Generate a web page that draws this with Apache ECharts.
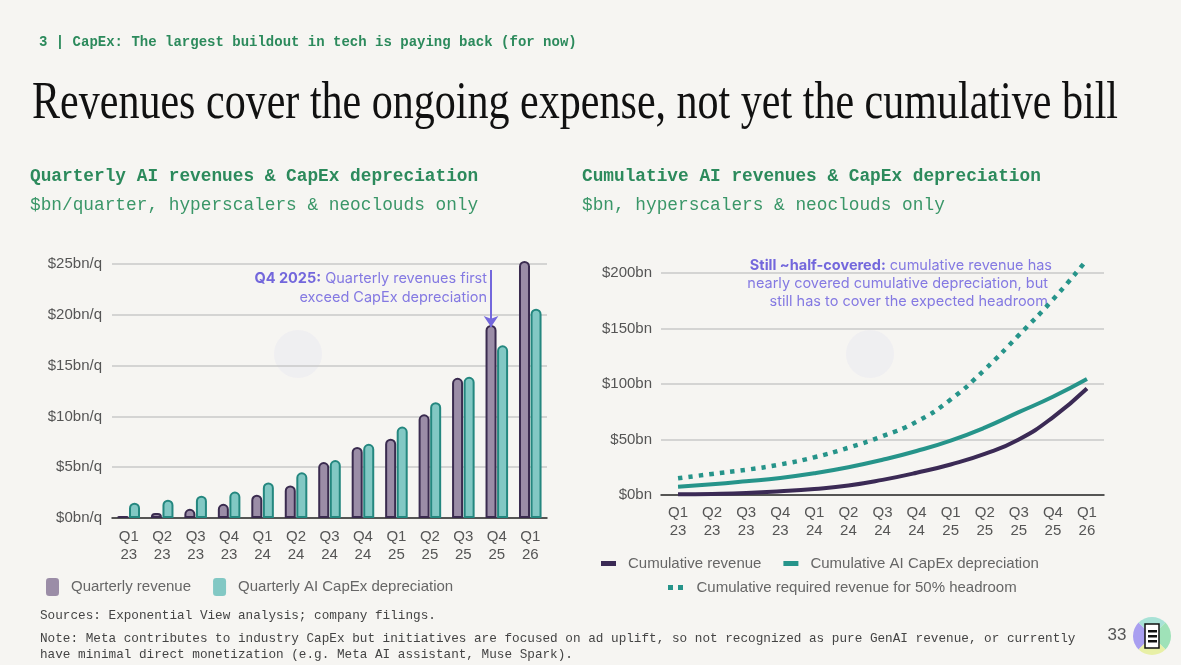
<!DOCTYPE html>
<html>
<head>
<meta charset="utf-8">
<script src="https://cdn.jsdelivr.net/npm/echarts@6/dist/echarts.min.js"></script>
<style>
  html, body { margin: 0; padding: 0; background: #f6f5f2; }
  #main { width: 1181px; height: 665px; }
</style>
</head>
<body>
<div id="main"></div>
<script>
// tick labels shared by both charts
const quarters = ['Q1 23', 'Q2 23', 'Q3 23', 'Q4 23', 'Q1 24', 'Q2 24', 'Q3 24', 'Q4 24', 'Q1 25', 'Q2 25', 'Q3 25', 'Q4 25', 'Q1 26'];

// left chart, $bn per quarter
const quarterlyRevenue = [0.2, 0.5, 0.9, 1.4, 2.3, 3.2, 5.5, 7.0, 7.8, 10.2, 13.8, 19.0, 25.3];
const quarterlyDepreciation = [1.5, 1.8, 2.2, 2.6, 3.5, 4.5, 5.7, 7.3, 9.0, 11.4, 13.9, 17.0, 20.6];

// right chart, cumulative $bn
const cumRevenue = [0.6, 1.0, 1.8, 3.3, 5.4, 8.5, 13.6, 20, 27.5, 37, 50, 70, 96];
const cumDepreciation = [7.5, 9.7, 12.4, 15.4, 19.6, 25, 31.7, 39.6, 49, 60.7, 74.6, 88.5, 104.5];
const cumHeadroom = [15, 19, 22.7, 27.5, 34, 42.6, 53, 66, 86, 113, 144, 176, 212];

const leftTicks = [0, 5, 10, 15, 20, 25];
const rightTicks = [0, 50, 100, 150, 200];

const GREEN = '#2c8a5c';
const PURPLE = '#7367dc';
const PURPLE_LIGHT = '#8479e2';
const AXIS_FONT = '"Liberation Sans", Arial, sans-serif';
const MONO = '"Liberation Mono", "DejaVu Sans Mono", monospace';
const ANNOT_FONT = 'Inter, Lato, sans-serif';

const titleText = 'Revenues cover the ongoing expense, not yet the cumulative bill';
const ctx = document.createElement('canvas').getContext('2d');
ctx.font = '52px "Liberation Serif"';
const titleScale = 1086 / ctx.measureText(titleText).width;

const chart = echarts.init(document.getElementById('main'));

const axisLabel = { color: '#555', fontSize: 15, fontFamily: AXIS_FONT };

function annot(x, y, text) {
  return {
    type: 'text', x: x, y: y,
    style: {
      text: text, align: 'right', verticalAlign: 'middle',
      fill: PURPLE_LIGHT, fontSize: 14.5, fontFamily: ANNOT_FONT,
      rich: { b: { fontWeight: 'bold', fontSize: 14.5, fontFamily: ANNOT_FONT, fill: PURPLE } }
    }
  };
}

const option = {
  backgroundColor: '#f6f5f2',
  animation: false,
  grid: [
    { left: 112, top: 264, width: 435, height: 254 },
    { left: 661, top: 273, width: 443, height: 222 }
  ],
  xAxis: [
    {
      type: 'category', gridIndex: 0, data: quarters,
      axisTick: { show: false },
      axisLine: { lineStyle: { color: '#2b2b2b', width: 1.5 } },
      axisLabel: Object.assign({}, axisLabel, {
        margin: 10, lineHeight: 18,
        formatter: v => v.replace(' ', '\n')
      })
    },
    {
      type: 'category', gridIndex: 1, data: quarters,
      axisTick: { show: false },
      axisLine: { lineStyle: { color: '#2b2b2b', width: 1.5 } },
      axisLabel: Object.assign({}, axisLabel, {
        margin: 9, lineHeight: 18,
        formatter: v => v.replace(' ', '\n')
      })
    }
  ],
  yAxis: [
    {
      type: 'value', gridIndex: 0,
      min: leftTicks[0], max: leftTicks[leftTicks.length - 1], interval: 5,
      axisLine: { show: false }, axisTick: { show: false },
      splitLine: { lineStyle: { color: '#c9c9c9', width: 1.5 } },
      axisLabel: Object.assign({}, axisLabel, { margin: 10, formatter: v => '$' + v + 'bn/q' })
    },
    {
      type: 'value', gridIndex: 1,
      min: rightTicks[0], max: rightTicks[rightTicks.length - 1], interval: 50,
      axisLine: { show: false }, axisTick: { show: false },
      splitLine: { lineStyle: { color: '#c9c9c9', width: 1.5 } },
      axisLabel: Object.assign({}, axisLabel, { margin: 9, formatter: v => '$' + v + 'bn' })
    }
  ],
  legend: [
    {
      left: 46, top: 578, padding: 0, itemGap: 22,
      itemWidth: 13, itemHeight: 18, icon: 'roundRect',
      itemStyle: { borderWidth: 0 },
      textStyle: { color: '#666', fontSize: 15, fontFamily: AXIS_FONT, padding: [0, 0, 0, 7] },
      data: ['Quarterly revenue', 'Quarterly AI CapEx depreciation']
    },
    {
      left: 601, top: 556, padding: 0, itemGap: 22,
      itemWidth: 15, itemHeight: 5, icon: 'rect',
      textStyle: { color: '#666', fontSize: 15, fontFamily: AXIS_FONT, padding: [0, 0, 0, 7] },
      data: ['Cumulative revenue', 'Cumulative AI CapEx depreciation']
    },
    {
      left: 668, top: 580, padding: 0,
      itemWidth: 18, itemHeight: 5,
      icon: 'path://M0,0h6v6h-6z M12,0h6v6h-6z',
      textStyle: { color: '#666', fontSize: 15, fontFamily: AXIS_FONT, padding: [0, 0, 0, 7] },
      data: ['Cumulative required revenue for 50% headroom']
    }
  ],
  title: [
    {
      text: '3 | CapEx: The largest buildout in tech is paying back (for now)',
      left: 39, top: 35, padding: 0,
      textStyle: { color: GREEN, fontSize: 14, fontWeight: 'bold', fontFamily: MONO }
    },
    {
      text: 'Quarterly AI revenues & CapEx depreciation',
      subtext: '$bn/quarter, hyperscalers & neoclouds only',
      left: 30, top: 168, padding: 0, itemGap: 10,
      textStyle: { color: GREEN, fontSize: 17.8, fontWeight: 'bold', fontFamily: MONO },
      subtextStyle: { color: '#3a9668', fontSize: 17.8, fontFamily: MONO }
    },
    {
      text: 'Cumulative AI revenues & CapEx depreciation',
      subtext: '$bn, hyperscalers & neoclouds only',
      left: 582, top: 168, padding: 0, itemGap: 10,
      textStyle: { color: GREEN, fontSize: 17.8, fontWeight: 'bold', fontFamily: MONO },
      subtextStyle: { color: '#3a9668', fontSize: 17.8, fontFamily: MONO }
    }
  ],
  graphic: [
    {
      type: 'text', x: 32, y: 104, scaleX: titleScale, originX: 0,
      style: { text: titleText, fontSize: 52, fontFamily: '"Liberation Serif", serif', fill: '#111', verticalAlign: 'middle' }
    },
    // faint watermarks
    { type: 'circle', shape: { cx: 298, cy: 354, r: 24 }, style: { fill: 'rgba(222,222,240,0.28)' }, z: -1 },
    { type: 'circle', shape: { cx: 870, cy: 354, r: 24 }, style: { fill: 'rgba(222,222,240,0.28)' }, z: -1 },
    // annotations
    annot(487, 279, '{b|Q4 2025:} Quarterly revenues first'),
    annot(487, 298, 'exceed CapEx depreciation'),
    annot(1052, 266, '{b|Still ~half-covered:} cumulative revenue has'),
    annot(1048, 284, 'nearly covered cumulative depreciation, but'),
    annot(1048, 302, 'still has to cover the expected headroom'),
    // footer
    {
      type: 'text', x: 40, y: 616,
      style: { text: 'Sources: Exponential View analysis; company filings.', verticalAlign: 'middle', fill: '#444', fontSize: 12.7, fontFamily: MONO }
    },
    {
      type: 'text', x: 40, y: 639,
      style: { text: 'Note: Meta contributes to industry CapEx but initiatives are focused on ad uplift, so not recognized as pure GenAI revenue, or currently', verticalAlign: 'middle', fill: '#444', fontSize: 12.7, fontFamily: MONO }
    },
    {
      type: 'text', x: 40, y: 655,
      style: { text: 'have minimal direct monetization (e.g. Meta AI assistant, Muse Spark).', verticalAlign: 'middle', fill: '#444', fontSize: 12.7, fontFamily: MONO }
    },
    {
      type: 'text', x: 1117, y: 635,
      style: { text: '33', align: 'center', verticalAlign: 'middle', fill: '#555', fontSize: 17, fontFamily: AXIS_FONT }
    },
    // logo
    { type: 'sector', shape: { cx: 1152, cy: 636, r: 19, startAngle: Math.PI * 0.75, endAngle: Math.PI * 1.25 }, style: { fill: '#a99ff0' } },
    { type: 'sector', shape: { cx: 1152, cy: 636, r: 19, startAngle: Math.PI * 1.25, endAngle: Math.PI * 1.75 }, style: { fill: '#a8e2d6' } },
    { type: 'sector', shape: { cx: 1152, cy: 636, r: 19, startAngle: -Math.PI * 0.25, endAngle: Math.PI * 0.25 }, style: { fill: '#9fe2b8' } },
    { type: 'sector', shape: { cx: 1152, cy: 636, r: 19, startAngle: Math.PI * 0.25, endAngle: Math.PI * 0.75 }, style: { fill: '#e8f0a6' } },
    { type: 'rect', shape: { x: 1145, y: 624, width: 14, height: 24 }, style: { fill: '#fff', stroke: '#111', lineWidth: 1.5 } },
    { type: 'rect', shape: { x: 1148, y: 630, width: 9, height: 2.5 }, style: { fill: '#111' } },
    { type: 'rect', shape: { x: 1148, y: 635, width: 9, height: 2.5 }, style: { fill: '#111' } },
    { type: 'rect', shape: { x: 1148, y: 640, width: 9, height: 2.5 }, style: { fill: '#111' } }
  ],
  series: [
    {
      name: 'Quarterly revenue', type: 'bar', xAxisIndex: 0, yAxisIndex: 0,
      data: quarterlyRevenue, barWidth: 11, barGap: '5%', clip: false,
      itemStyle: { color: '#9b8da7', borderColor: '#3a2b4f', borderWidth: 2, borderRadius: [5, 5, 0, 0] },
      markLine: {
        silent: true, symbol: ['none', 'arrow'], symbolSize: 11,
        label: { show: false },
        lineStyle: { color: PURPLE, width: 2, type: 'solid' },
        data: [[{ coord: ['Q4 25', 24.4] }, { coord: ['Q4 25', 18.8] }]]
      }
    },
    {
      name: 'Quarterly AI CapEx depreciation', type: 'bar', xAxisIndex: 0, yAxisIndex: 0,
      data: quarterlyDepreciation, barWidth: 11, clip: false,
      itemStyle: { color: '#82c8c4', borderColor: '#24877f', borderWidth: 2, borderRadius: [5, 5, 0, 0] }
    },
    {
      name: 'Cumulative revenue', type: 'line', xAxisIndex: 1, yAxisIndex: 1,
      data: cumRevenue, smooth: true, showSymbol: false, clip: false,
      itemStyle: { color: '#3b2a55' },
      lineStyle: { color: '#3b2a55', width: 4 }
    },
    {
      name: 'Cumulative AI CapEx depreciation', type: 'line', xAxisIndex: 1, yAxisIndex: 1,
      data: cumDepreciation, smooth: true, showSymbol: false, clip: false,
      itemStyle: { color: '#26948a' },
      lineStyle: { color: '#26948a', width: 4 },
      markLine: {
        silent: true, symbol: ['arrow', 'arrow'], symbolSize: 11,
        label: { show: false },
        lineStyle: { color: PURPLE, width: 2.5, type: 'solid' },
        data: [[{ coord: ['Q1 26', 207] }, { coord: ['Q1 26', 104] }]]
      }
    },
    {
      name: 'Cumulative required revenue for 50% headroom', type: 'line', xAxisIndex: 1, yAxisIndex: 1,
      data: cumHeadroom, smooth: true, showSymbol: false, clip: false,
      itemStyle: { color: '#26948a' },
      lineStyle: { color: '#26948a', width: 4.5, type: [4.5, 6] }
    }
  ]
};

chart.setOption(option);
</script>
</body>
</html>
